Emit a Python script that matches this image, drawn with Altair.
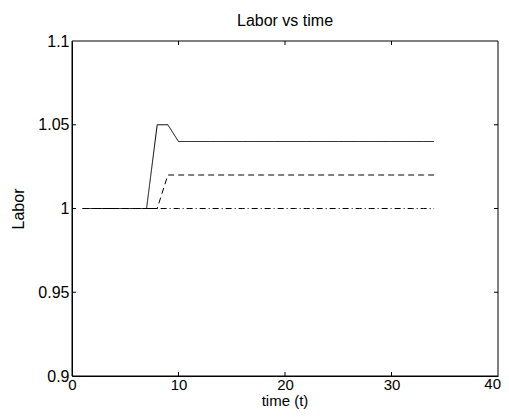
import altair as alt
import pandas as pd

t = list(range(1, 35))
solid = [1.0] * 7 + [1.05, 1.05] + [1.04] * 25
dashed = [1.0] * 8 + [1.02] * 26
dashdot = [1.0] * 34

x_ticks = [0, 10, 20, 30, 40]
y_ticks = [0.9, 0.95, 1.0, 1.05, 1.1]
title_text = "Labor vs time"
x_title = "time (t)"
y_title = "Labor"

W, H = 426, 335
FONT = "Liberation Sans"
FS = 16
FSX = 15

rows = []
for name, vals in [("solid", solid), ("dashed", dashed), ("dashdot", dashdot)]:
    for ti, v in zip(t, vals):
        rows.append({"t": ti, "labor": v, "series": name})
df = pd.DataFrame(rows)

xs = alt.Scale(domain=[0, 40], nice=False)
ys = alt.Scale(domain=[0.9, 1.1], nice=False)

xaxis = alt.Axis(values=x_ticks, title=None, tickSize=0, labelPadding=1,
                 labelFontSize=FSX, labelFont=FONT, grid=False,
                 domainColor="black", domainWidth=1, labelColor="black",
                 labelFlush=False, labelOverlap=False,
                 labelExpr="datum.value == 40 ? '' : datum.label")
yaxis = alt.Axis(values=y_ticks, title=y_title, tickSize=0, labelPadding=3,
                 labelFontSize=FS, titleFontSize=FS, titleFontWeight="normal",
                 labelFont=FONT, titleFont=FONT, titlePadding=11, grid=False,
                 domainColor="black", domainWidth=1, labelColor="black", titleColor="black",
                 labelFlush=False, labelOverlap=False,
                 labelExpr="datum.value == 1 ? '1' : format(datum.value, '.3~f')")

def line(name, dash):
    enc = dict(
        x=alt.X("t:Q", scale=xs, axis=xaxis),
        y=alt.Y("labor:Q", scale=ys, axis=yaxis),
    )
    m = alt.Chart(df[df.series == name]).mark_line(color="black", strokeWidth=1,
                                                    strokeDash=dash, clip=True)
    return m.encode(**enc)

l_dashdot = line("dashdot", [6, 3, 1, 3])
l_dashed = line("dashed", [6, 4])
l_solid = line("solid", [1, 0])

xt = pd.DataFrame({"v": x_ticks[1:-1]})
yt = pd.DataFrame({"v": y_ticks[1:-1]})

tick_b = alt.Chart(xt).mark_rule(color="black", strokeWidth=1).encode(
    x=alt.X("v:Q", scale=xs), y=alt.value(H), y2=alt.value(H - 4))
tick_t = alt.Chart(xt).mark_rule(color="black", strokeWidth=1).encode(
    x=alt.X("v:Q", scale=xs), y=alt.value(0), y2=alt.value(4))
tick_l = alt.Chart(yt).mark_rule(color="black", strokeWidth=1).encode(
    y=alt.Y("v:Q", scale=ys), x=alt.value(0), x2=alt.value(4))
tick_r = alt.Chart(yt).mark_rule(color="black", strokeWidth=1).encode(
    y=alt.Y("v:Q", scale=ys), x=alt.value(W), x2=alt.value(W - 4))
box = alt.Chart(pd.DataFrame({"a": [0]})).mark_rect(
    fill=None, stroke="black", strokeWidth=1).encode(
    x=alt.value(0), x2=alt.value(W), y=alt.value(0), y2=alt.value(H))
last_label = alt.Chart(pd.DataFrame({"v": [x_ticks[-1]], "s": [str(x_ticks[-1])]})).mark_text(
    font=FONT, fontSize=FSX, color="black", align="right", baseline="top", dx=3).encode(
    x=alt.X("v:Q", scale=xs), y=alt.value(H + 1), text="s:N")
title_layer = alt.Chart(pd.DataFrame({"s": [title_text]})).mark_text(
    font=FONT, fontSize=FS, color="black", align="center", baseline="alphabetic").encode(
    x=alt.value(W / 2), y=alt.value(-15), text="s:N")
xtitle_layer = alt.Chart(pd.DataFrame({"s": [x_title]})).mark_text(
    font=FONT, fontSize=FSX, color="black", align="center", baseline="alphabetic").encode(
    x=alt.value(W / 2), y=alt.value(H + 30), text="s:N")

chart = alt.layer(l_dashdot, l_dashed, l_solid, tick_b, tick_t, tick_l, tick_r, box,
                  last_label, title_layer, xtitle_layer).properties(
    width=W, height=H,
    autosize=alt.AutoSizeParams(type="none"),
    padding={"left": 64, "top": 33, "right": 3, "bottom": 33},
).configure(background="white").configure_view(stroke=None)

chart.save("out.html", embed_options={"renderer": "svg", "actions": False})
